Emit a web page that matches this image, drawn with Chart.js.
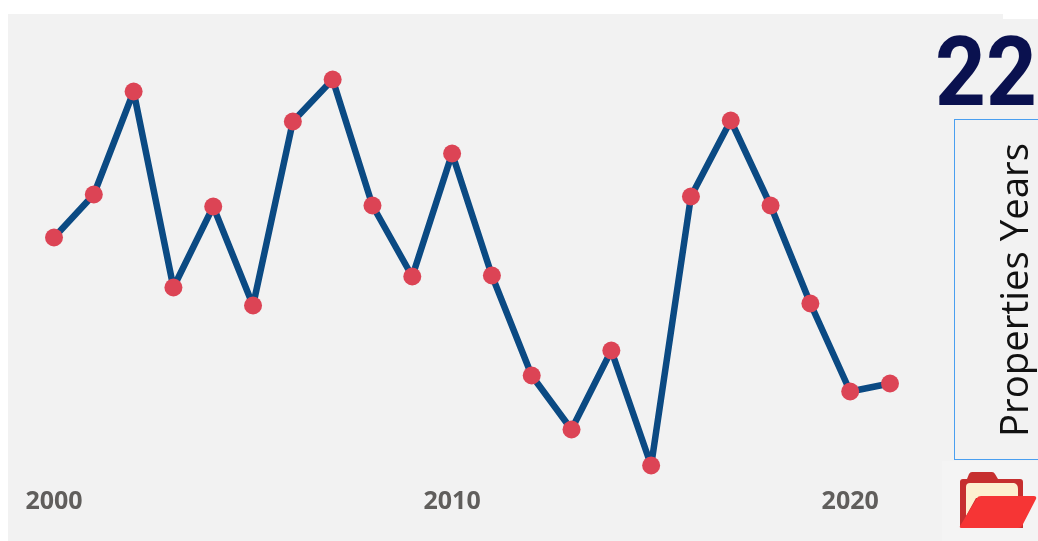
<!DOCTYPE html>
<html><head><meta charset="utf-8">
<script src="https://cdn.jsdelivr.net/npm/chart.js@4"></script>
<style>
html,body{margin:0;padding:0;background:#fff;width:1038px;height:541px;overflow:hidden}
#panel{position:absolute;left:8px;top:14px;width:1030px;height:527px;background:#f2f2f2}
#notchW{position:absolute;left:1003px;top:14px;width:35px;height:5px;background:#fff}
#wrap{position:absolute;left:0;top:0;width:1038px;height:541px}
#big{position:absolute;left:935px;top:14px;font:700 97px/116px Roboto,sans-serif;color:#0a114f;white-space:nowrap;transform:scaleX(0.915);transform-origin:left center}
#box{position:absolute;left:954px;top:119px;width:90px;height:339px;border:1px solid #4a9ff0;box-sizing:content-box}
#vt{position:absolute;left:1012.5px;top:289.5px;transform:translate(-50%,-50%) rotate(-90deg);font:400 38.4px 'Open Sans',sans-serif;color:#111;white-space:nowrap}
#iconbg{position:absolute;left:942px;top:461px;width:96px;height:80px;background:#f4f4f4}
#icon{position:absolute;left:958px;top:470px}
</style></head><body>
<div id="panel"></div><div id="notchW"></div>
<div id="wrap"><canvas id="c" width="1038" height="541"></canvas></div>
<div id="big">22</div>
<div id="box"></div>
<div id="vt">Properties Years</div>
<div id="iconbg"></div>
<svg id="icon" width="80" height="62" viewBox="0 0 80 62">
<path d="M2 12 Q2 9 5 9 L9 9 L11 4 Q12 2 14 2 L34 2 Q36 2 37 4 L40 9 L62 9 Q65 9 65 12 L65 58 L4 58 Q2 58 2 56Z" fill="#c62f2f"/>
<path d="M8 17 Q8 13 12 13 L56 13 Q60 14 60 19 L60 28 L18 28 L8 46Z" fill="#fdf0d0"/>
<path d="M19 28 Q20 26 23 26 L76 26 Q79 26 78 29 L64 56 Q63 58 60 58 L4 58 Q1 58 2 56Z" fill="#f63535"/>
</svg>
<script>
const years=['2000','2001','2002','2003','2004','2005','2006','2007','2008','2009','2010','2011','2012','2013','2014','2015','2016','2017','2018','2019','2020','2021'];
const values=[60.75,71.5,97.25,48.25,68.5,43.75,89.75,100.25,68.75,51,81.75,51.25,26.25,12.75,32.5,3.75,71,90,68.75,44.25,22.25,24.25];
const shownYears=['2000','2010','2020'];
Chart.defaults.animation=false;
new Chart(document.getElementById('c'),{
 type:'line',
 data:{labels:years,datasets:[{data:values,borderColor:'#0b4a83',borderWidth:6.5,tension:0,
   pointBackgroundColor:'#dc4455',pointBorderColor:'#dc4455',pointBorderWidth:0,pointRadius:9,pointHoverRadius:9,borderCapStyle:'round',borderJoinStyle:'bevel'}]},
 options:{responsive:false,devicePixelRatio:1,
  layout:{padding:{left:0,right:148,top:20.5,bottom:0}},
  plugins:{legend:{display:false},tooltip:{enabled:false}},
  scales:{
   x:{offset:false,grid:{display:false,drawTicks:false},border:{display:false},
      afterFit(a){a.height=60.5;},
      ticks:{autoSkip:false,maxRotation:0,padding:6,color:'#605e5c',font:{family:'Open Sans',weight:'700',size:25},
        callback(v){const l=this.getLabelForValue(v);return shownYears.includes(l)?l:'';}}},
   y:{min:0,max:115,grid:{display:false,drawTicks:false},border:{display:false},
      ticks:{display:false},afterFit(a){a.width=54;}}
  }
 }
});
</script>
</body></html>
